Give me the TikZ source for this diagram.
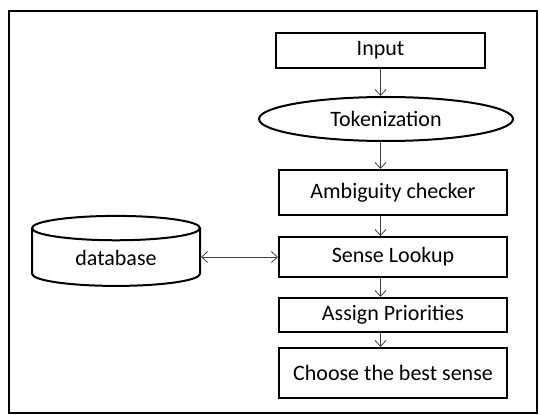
\documentclass[tikz,border=0pt]{standalone}
\usepackage{fontspec}
\setmainfont{Carlito}
\usetikzlibrary{positioning,shapes.geometric,arrows.meta}

\tikzset{
  stepbox/.style={draw, line width=2pt, minimum width=228pt, inner sep=0pt},
  arr/.style={line width=0.8pt, black!75, -{Straight Barb[length=6pt,width=11pt]}}
}

\begin{document}
\begin{tikzpicture}[x=1pt, y=-1pt, every node/.style={font=\fontsize{22}{26}\selectfont}]
    \useasboundingbox (0,0) rectangle (539,415);
    \draw[line width=2.2pt] (9,11) rectangle (537,413);

    % nodes
    \node[stepbox, minimum width=209pt, minimum height=35pt] (input) at (380.5,50.5) {Input};
    \node[ellipse, draw, line width=2pt, inner sep=0pt, minimum width=254pt, minimum height=44pt] (tok) at (386,119) {Tokenization};
    \node[stepbox, minimum height=45pt] (amb) at (393,192.5) {Ambiguity checker};
    \node[stepbox, minimum height=40pt] (sense) at (393,257) {Sense Lookup};
    \node[stepbox, minimum height=34pt] (assign) at (393,315) {Assign Priorities};
    \node[stepbox, minimum height=50pt] (choose) at (393,373) {Choose the best sense};

    \node[cylinder, shape border rotate=90, draw, line width=2pt, aspect=0.3,
          minimum width=168pt, minimum height=70pt, inner sep=0pt] (db) at (116,257.5) {database};

    % edges down the chain
    \draw[arr] (input.south) -- (input.south |- tok.north);
    \draw[arr] (tok.south -| input) -- (amb.north -| input);
    \draw[arr] (amb.south -| input) -- (sense.north -| input);
    \draw[arr] (sense.south -| input) -- (assign.north -| input);
    \draw[arr] (assign.south -| input) -- (choose.north -| input);

    % database link
    \draw[arr, {Straight Barb[length=6pt,width=11pt]}-{Straight Barb[length=6pt,width=11pt]}] (db.east |- sense.west) -- (sense.west);
\end{tikzpicture}
\end{document}
